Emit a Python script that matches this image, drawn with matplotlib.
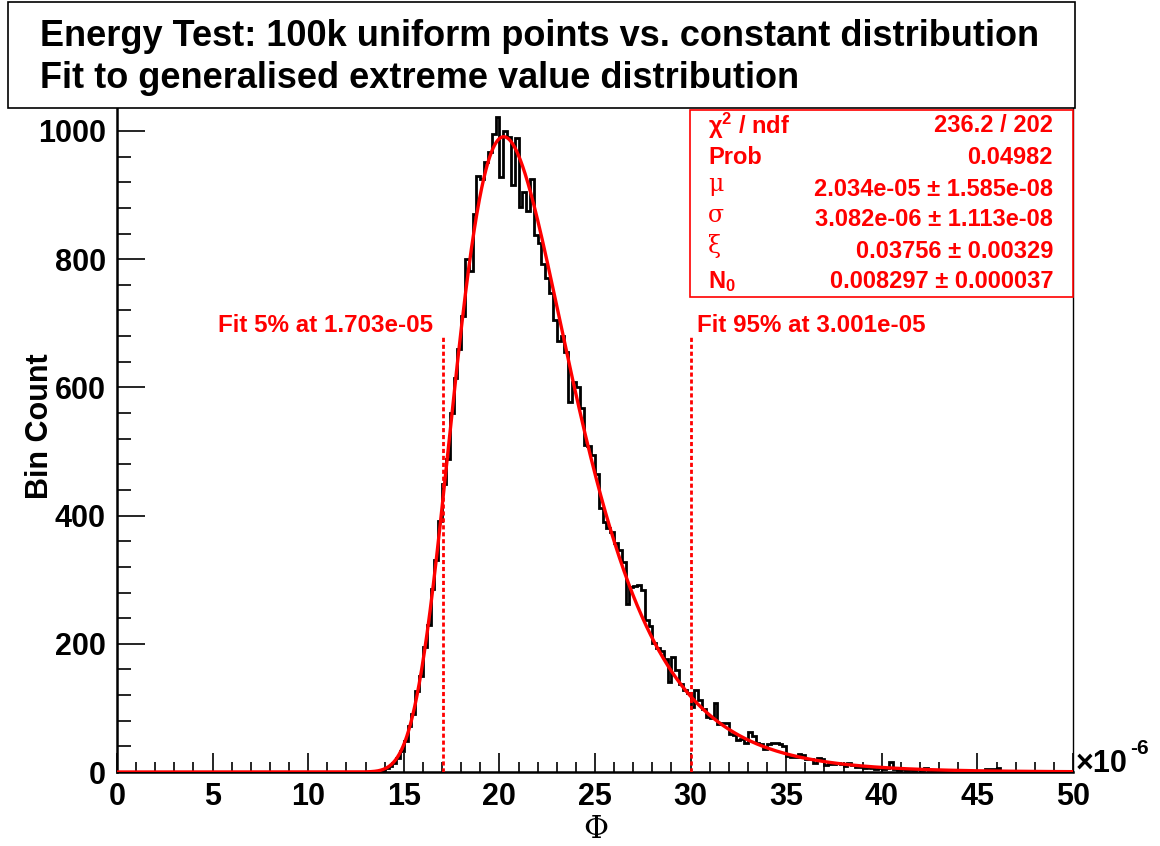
import numpy as np
import matplotlib
matplotlib.use("Agg")
import matplotlib.pyplot as plt
from matplotlib.patches import Rectangle
from matplotlib.ticker import MultipleLocator, FuncFormatter

# ---------------- data ----------------
title_lines = ["Energy Test: 100k uniform points vs. constant distribution",
               "Fit to generalised extreme value distribution"]
x_label = "Φ"
y_label = "Bin Count"
x_range = (0.0, 50e-6)
n_bins = 250

# counts for bins with left edges 0.0, 0.2, ..., 12.8 (x1e-6): all empty
counts_low = [0] * 65
# counts for bins with left edges 13.0, 13.2, ..., 49.8 (x1e-6)
counts_main = [
    0, 0, 1, 2, 3, 6, 9, 14, 22, 33,                          # 13.0-14.8
    48, 72, 90, 126, 150, 195, 230, 286, 330, 392,            # 15.0-16.8
    450, 488, 560, 615, 660, 712, 800, 782, 870, 930,         # 17.0-18.8
    925, 952, 968, 995, 1022, 929, 1000, 990, 916, 989,       # 19.0-20.8
    882, 905, 875, 925, 838, 825, 792, 770, 748, 705,         # 21.0-22.8
    672, 680, 655, 578, 609, 600, 568, 510, 508, 495,         # 23.0-24.8
    465, 412, 390, 380, 375, 357, 346, 328, 262, 289,         # 25.0-26.8
    290, 291, 284, 237, 227, 201, 193, 189, 176, 140,         # 27.0-28.8
    180, 159, 137, 128, 123, 102, 128, 112, 98, 86,           # 29.0-30.8
    84, 107, 75, 77, 76, 60, 57, 50, 52, 45,                  # 31.0-32.8
    62, 56, 45, 43, 36, 44, 45, 45, 44, 40,                   # 33.0-34.8
    25, 23, 24, 28, 26, 21, 21, 14, 22, 21,                   # 35.0-36.8
    11, 12, 13, 14, 12, 10, 14, 11, 8, 8,                     # 37.0-38.8
    7, 8, 6, 5, 6, 5, 6, 16, 4, 3,                            # 39.0-40.8
    4, 3, 4, 3, 4, 3, 7, 3, 2, 3,                             # 41.0-42.8
    2, 3, 2, 2, 1, 2, 3, 1, 2, 1,                             # 43.0-44.8
    2, 1, 4, 5, 4, 6, 2, 1, 1, 2,                             # 45.0-46.8
    1, 0, 1, 1, 0, 1, 0, 1, 0, 0,                             # 47.0-48.8
    1, 0, 0, 0, 0,                                            # 49.0-49.8
]
counts = counts_low + counts_main

# fit results (generalised extreme value)
fit_mu = 2.034e-05
fit_sigma = 3.082e-06
fit_xi = 0.03756
fit_N0 = 0.008297
q05 = 1.703e-05
q95 = 3.001e-05

stats_labels = ["$\\chi^{2}$ / ndf", "Prob", "μ", "σ", "ξ", "N$_{\\mathbf{0}}$"]
stats_values = ["236.2 / 202", "0.04982", "2.034e-05 ± 1.585e-08",
                "3.082e-06 ± 1.113e-08", "0.03756 ± 0.00329",
                "0.008297 ± 0.000037"]

# ---------------- figure ----------------
plt.rcParams["mathtext.default"] = "regular"
plt.rcParams["mathtext.fontset"] = "custom"
plt.rcParams["mathtext.rm"] = "Liberation Sans"
plt.rcParams["mathtext.bf"] = "Liberation Sans:bold"
plt.rcParams["mathtext.it"] = "Liberation Sans:italic"
FONT = "Liberation Sans"

W, H = 1160, 846
fig = plt.figure(figsize=(W / 100, H / 100), dpi=100)
fig.patch.set_facecolor("white")


def fx(p):
    return p / W


def fy(p):
    return 1 - p / H


y_max = 1076
px_per_count = 0.641
ax_top = 772 - y_max * px_per_count
ax = fig.add_axes([fx(117), fy(772), fx(1073) - fx(117), fy(ax_top) - fy(772)])
ax.set_xlim(*x_range)
ax.set_ylim(0, y_max)

edges = np.linspace(x_range[0], x_range[1], n_bins + 1)
ax.stairs(counts, edges, color="black", lw=2.0, zorder=3)

xs = np.linspace(x_range[0], x_range[1], 3000)
zz = (xs - fit_mu) / fit_sigma
tt = (1 + fit_xi * zz) ** (-1.0 / fit_xi)
yy = fit_N0 / fit_sigma * tt ** (1 + fit_xi) * np.exp(-tt)
ax.plot(xs, yy, color="red", lw=2.4, zorder=4, solid_capstyle="butt")

line_top = 682
for q in (q05, q95):
    ax.plot([q, q], [0, line_top], color="red", lw=2.0,
            ls=(0, (1.5, 1.0)), zorder=5)
ax.text(q05 - 0.5e-6, line_top + 14, "Fit 5% at 1.703e-05", color="red",
        fontsize=17.4, fontweight="bold", family=FONT, ha="right", va="center")
ax.text(q95 + 0.35e-6, line_top + 14, "Fit 95% at 3.001e-05", color="red",
        fontsize=17.4, fontweight="bold", family=FONT, ha="left", va="center")

# axes styling
for side in ("left", "bottom"):
    ax.spines[side].set_linewidth(1.8)
ax.spines["right"].set_linewidth(1.0)
ax.spines["top"].set_visible(False)
ax.xaxis.set_major_locator(MultipleLocator(5e-6))
ax.xaxis.set_minor_locator(MultipleLocator(1e-6))
ax.yaxis.set_major_locator(MultipleLocator(200))
ax.yaxis.set_minor_locator(MultipleLocator(40))
ax.xaxis.set_major_formatter(FuncFormatter(lambda v, p: f"{v / 1e-6:g}"))
ax.yaxis.set_major_formatter(FuncFormatter(lambda v, p: f"{v:g}"))
ax.tick_params(axis="x", which="major", direction="in", length=13.5, width=1.2,
               pad=7, labelsize=22)
ax.tick_params(axis="x", which="minor", direction="in", length=7, width=1.2)
ax.tick_params(axis="y", which="major", direction="in", length=20, width=1.2,
               pad=8, labelsize=22)
ax.tick_params(axis="y", which="minor", direction="in", length=10, width=1.2)
ax.tick_params(top=False, right=False, which="both")
for lab in ax.get_xticklabels() + ax.get_yticklabels():
    lab.set_fontweight("bold")
    lab.set_family(FONT)

# axis titles
fig.text(fx(40), fy(426), y_label, rotation=90, fontsize=22, fontweight="bold",
         family=FONT, ha="center", va="center")
fig.text(fx(596), fy(829), x_label, fontsize=22, family="DejaVu Serif",
         ha="center", va="center")
fig.text(fx(1076), fy(764), "×10", fontsize=22, fontweight="bold", family=FONT,
         ha="left", va="center")
fig.text(fx(1130), fy(748), "-6", fontsize=15, fontweight="bold", family=FONT,
         ha="left", va="center")

# title box
fig.add_artist(Rectangle((fx(8), fy(108)), fx(1075) - fx(8), fy(2) - fy(108),
                         transform=fig.transFigure, facecolor="white",
                         edgecolor="black", lw=1.2, zorder=10))
fig.text(fx(40), fy(36), title_lines[0], fontsize=26, fontweight="bold",
         family=FONT, ha="left", va="center", zorder=11)
fig.text(fx(40), fy(78), title_lines[1], fontsize=26, fontweight="bold",
         family=FONT, ha="left", va="center", zorder=11)

# stats box
fig.add_artist(Rectangle((fx(690), fy(297)), fx(1073) - fx(690), fy(110) - fy(297),
                         transform=fig.transFigure, facecolor="white",
                         edgecolor="red", lw=1.2, zorder=10))
row_y = [126, 158, 189, 220, 251, 282]
for i, (lab, val) in enumerate(zip(stats_labels, stats_values)):
    if lab in ("μ", "σ", "ξ"):
        fig.text(fx(708), fy(row_y[i] - 5), lab, fontsize=17, color="red",
                 family="DejaVu Serif", ha="left", va="center", zorder=11)
    else:
        fig.text(fx(708), fy(row_y[i]), lab, fontsize=17, color="red",
                 fontweight="bold", family=FONT, ha="left", va="center", zorder=11)
    fig.text(fx(1053), fy(row_y[i]), val, fontsize=17, color="red",
             fontweight="bold", family=FONT, ha="right", va="center", zorder=11)

fig.savefig("out.png", dpi=100, facecolor="white")
